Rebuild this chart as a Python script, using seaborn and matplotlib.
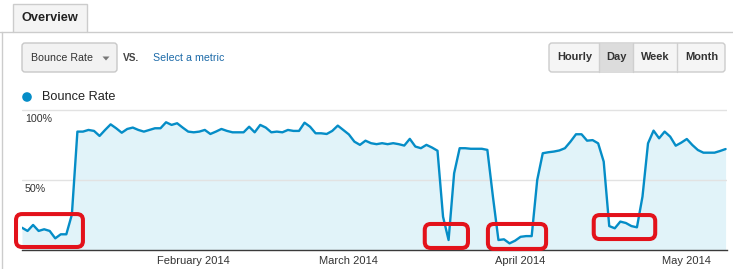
import numpy as np
import pandas as pd
import matplotlib
matplotlib.use("Agg")
import matplotlib.pyplot as plt
import matplotlib.dates as mdates
import seaborn as sns
from matplotlib.patches import FancyBboxPatch, Rectangle, Circle, Polygon
from matplotlib.lines import Line2D
from matplotlib.transforms import IdentityTransform

# ---------------- data ----------------
start_date = "2014-01-01"
bounce_rate = [
    15.6, 13.3, 17.6, 13.3, 14.5, 13.3, 8.0, 10.9, 10.9, 25.0,
    84.5, 84.5, 85.7, 85.0, 81.4, 85.7, 89.7, 86.9, 83.7, 86.4, 87.4, 85.7,
    84.5, 85.7, 86.9, 86.9, 91.2, 89.3, 90.5, 87.4, 84.5, 84.0, 84.5, 85.7,
    82.8, 84.5, 86.4, 85.0, 84.0, 84.0, 84.0, 88.0, 84.0, 89.3,
    87.4, 84.0, 84.5, 84.0, 85.7, 85.0, 85.0, 90.9, 88.0, 83.3, 83.3, 82.8,
    85.0, 88.8, 85.7, 82.5, 77.3, 75.0, 78.0, 76.2, 75.5,
    76.2, 75.5, 76.2, 75.5, 74.5, 79.3, 73.8, 72.6, 75.0, 73.1, 70.8, 23.5,
    6.8, 54.6, 72.6, 72.6, 72.2, 72.2, 72.2, 71.4,
    38.0, 6.8, 7.3, 4.4, 6.3, 9.1, 9.6, 9.6, 49.8, 69.0, 69.7, 70.2, 71.0,
    72.6, 77.3, 82.6, 82.6, 78.0, 78.4, 76.1, 63.0,
    16.8, 15.2, 20.0, 19.0, 16.8, 15.9, 37.9, 76.1, 85.2, 79.7, 84.5, 80.9,
    74.4, 76.6, 79.2, 74.9, 71.3, 69.4, 69.4, 69.4, 70.6, 72.0,
]
month_ticks = ["2014-02-01", "2014-03-01", "2014-04-01", "2014-05-01"]
month_labels = ["February 2014", "March 2014", "April 2014", "May 2014"]
y_ticks = [50, 100]
y_tick_labels = ["50%", "100%"]
metric_name = "Bounce Rate"
tab_label = "Overview"
compare_label = "VS."
select_label = "Select a metric"
buttons = ["Hourly", "Day", "Week", "Month"]
active_button = "Day"
# highlighted ranges: (start day offset, end day offset, low %, high %)
highlights = [
    (-1.08, 11.0, 1.8, 25.4),
    (72.7, 80.5, 1.1, 18.3),
    (84.1, 94.6, 0.4, 18.3),
    (103.2, 114.3, 7.5, 24.7),
]

# ---------------- style ----------------
W, H = 733, 269
LINE = "#058dc7"
FILL = "#e1f3f9"
sns.set_theme(style="white")
plt.rcParams["font.family"] = ["Liberation Sans", "DejaVu Sans"]

fig = plt.figure(figsize=(W / 100, H / 100), dpi=100)
fig.patch.set_facecolor("white")


def fx(x):
    return x / W


def fy(y):
    return 1 - y / H


def rrect(x0, y0, x1, y1, r, **kw):
    p = FancyBboxPatch((x0, H - y1), x1 - x0, y1 - y0,
                       boxstyle=f"round,pad=0,rounding_size={r}",
                       transform=IdentityTransform(), **kw)
    fig.add_artist(p)
    return p


# ---------------- chart ----------------
ax_left, ax_right, ax_bottom, ax_top = 22, 727, 249.5, 107.2
ax = fig.add_axes([fx(ax_left), fy(ax_bottom), (ax_right - ax_left) / W,
                   (ax_bottom - ax_top) / H])
ax.set_facecolor("none")

dates = pd.date_range(start_date, periods=len(bounce_rate), freq="D")
df = pd.DataFrame({"date": dates, "rate": bounce_rate})
ax.fill_between(df["date"], df["rate"], 0, color=FILL, lw=0, zorder=0.5)
for v in y_ticks:
    ax.axhline(v, color="#e2e2e2", lw=1, zorder=1)
sns.lineplot(data=df, x="date", y="rate", ax=ax, color=LINE, linewidth=1.7,
             zorder=3)

d0 = mdates.date2num(dates[0])
px_per_day = 5.54
ax.set_xlim(d0, d0 + (ax_right - ax_left) / px_per_day)
ax.set_ylim(0, 102)
ax.set_xlabel("")
ax.set_ylabel("")
ax.set_yticks([])
ax.set_xticks(pd.to_datetime(month_ticks))
ax.set_xticklabels(month_labels, fontsize=8, color="#333333")
ax.tick_params(axis="x", length=0, pad=4.5)
for s in ["top", "left", "right"]:
    ax.spines[s].set_visible(False)
ax.spines["bottom"].set_color("#3a3a3a")
ax.spines["bottom"].set_linewidth(1.0)

for v, lab in zip(y_ticks, y_tick_labels):
    ax.annotate(lab, xy=(0, v), xycoords=("axes fraction", "data"),
                xytext=(2.2, -6.5), textcoords="offset points",
                ha="left", va="center", fontsize=7.7, color="#333333")

# highlight boxes
fig.canvas.draw()
for x0, x1, y0, y1 in highlights:
    (px0, py0) = ax.transData.transform((d0 + x0, y0))
    (px1, py1) = ax.transData.transform((d0 + x1, y1))
    p = FancyBboxPatch((px0, py0), px1 - px0, py1 - py0,
                       boxstyle="round,pad=0,rounding_size=6",
                       transform=IdentityTransform(), fill=False,
                       ec="#e3121b", lw=2.9, zorder=10)
    fig.add_artist(p)

# ---------------- header ----------------
# tab
fig.add_artist(Rectangle((fx(13), fy(32)), (87 - 13) / W, (32 - 4) / H,
                         transform=fig.transFigure, fc="#f4f4f4",
                         ec="#cccccc", lw=1))
fig.add_artist(Line2D([fx(0), fx(13)], [fy(32), fy(32)], color="#cccccc", lw=1))
fig.add_artist(Line2D([fx(87), fx(733)], [fy(32), fy(32)], color="#cccccc", lw=1))
fig.add_artist(Line2D([fx(1.5), fx(1.5)], [fy(32), fy(269)], color="#cccccc", lw=1))
fig.text(fx(21.7), fy(17.7), tab_label, fontsize=9.2, fontweight="bold",
         color="#222222", ha="left", va="center")

# dropdown
rrect(22, 43, 117, 72, 3, fc="#f2f2f2", ec="#c8c8c8", lw=1)
fig.text(fx(30.7), fy(58.3), metric_name, fontsize=7.7, color="#333333",
         ha="left", va="center")
fig.add_artist(Polygon([(102.5, H - 56.5), (109.5, H - 56.5), (106, H - 60.5)],
                       closed=True, transform=IdentityTransform(),
                       fc="#777777", ec="none"))
fig.text(fx(123), fy(58), compare_label, fontsize=7.3, fontweight="bold",
         color="#444444", ha="left", va="center")
fig.text(fx(153), fy(58.3), select_label, fontsize=7.7, color="#1c6aa8",
         ha="left", va="center")

# buttons
rrect(549, 43, 725, 72, 3, fc="#f5f5f5", ec="#cccccc", lw=1)
btn_edges = [549, 599, 633, 677, 725]
for i, name in enumerate(buttons):
    a, b = btn_edges[i], btn_edges[i + 1]
    if name == active_button:
        fig.add_artist(Rectangle((a, H - 71.5), b - a, 28,
                                 transform=IdentityTransform(),
                                 fc="#dcdcdc", ec="none"))
    if i > 0:
        fig.add_artist(Line2D([a, a], [H - 72, H - 43],
                              transform=IdentityTransform(),
                              color="#cfcfcf", lw=1))
    fig.text(fx((a + b) / 2 + 0.5), fy(57.5), name, fontsize=7.9,
             fontweight="bold", color="#333333", ha="center", va="center")

# legend
fig.add_artist(Circle((27, H - 97), 4.8, transform=IdentityTransform(),
                      fc=LINE, ec="none"))
fig.text(fx(41.7), fy(97), metric_name, fontsize=9.2, color="#222222",
         ha="left", va="center")

fig.savefig("out.png", dpi=100, facecolor="white")
